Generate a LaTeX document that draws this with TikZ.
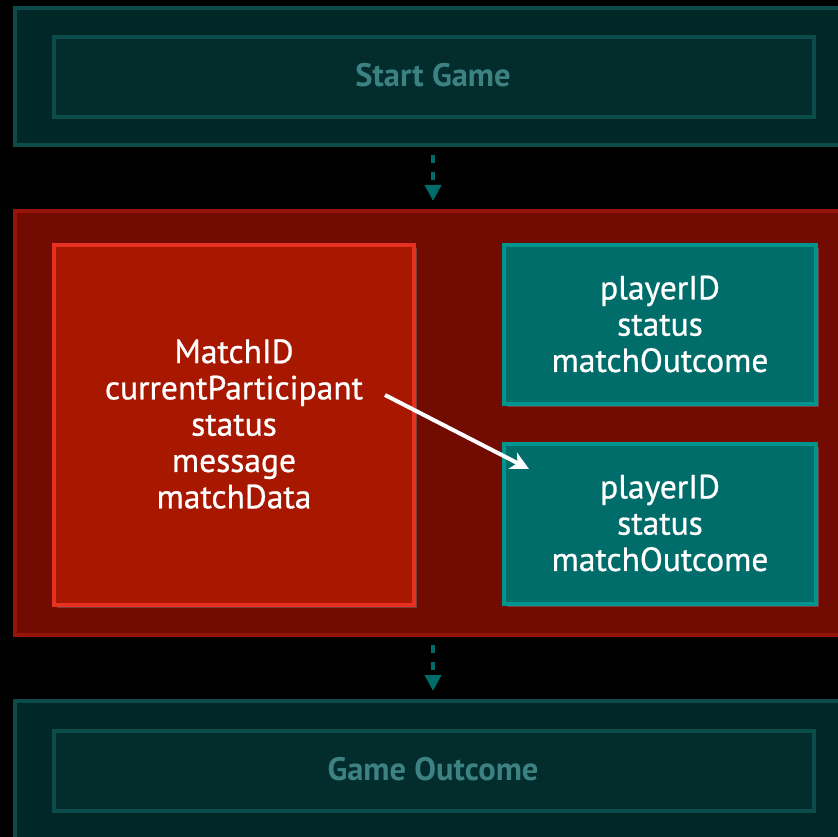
\documentclass[tikz,border=0pt]{standalone}
\usepackage{fontspec}
\setmainfont{PT Sans}
\newfontfamily\fieldfont[FakeBold=0.8]{PT Sans}
\usetikzlibrary{arrows.meta,shadows}

\definecolor{bgblack}{HTML}{000000}
\definecolor{stageFill}{HTML}{022727}
\definecolor{stageLine}{HTML}{0B4B49}
\definecolor{stageInFill}{HTML}{032D2D}
\definecolor{stageText}{HTML}{3D8282}
\definecolor{turnFill}{HTML}{720B02}
\definecolor{turnLine}{HTML}{96140A}
\definecolor{matchFill}{HTML}{A81700}
\definecolor{matchLine}{HTML}{E63120}
\definecolor{partFill}{HTML}{006D6A}
\definecolor{partLine}{HTML}{00948F}
\definecolor{flowTeal}{HTML}{006C6A}

\tikzset{
  stagebox/.style={draw=stageLine, fill=stageFill, line width=4pt},
  stageinner/.style={draw=stageLine, fill=stageInFill, line width=3.5pt},
  stagelabel/.style={text=stageText, font=\fontsize{32.5}{36}\selectfont\bfseries},
  turnbox/.style={draw=turnLine, fill=turnFill, line width=4pt},
  matchbox/.style={draw=matchLine, fill=matchFill, line width=3.5pt,
    drop shadow={shadow xshift=3pt, shadow yshift=-3pt, opacity=0.45}},
  partbox/.style={draw=partLine, fill=partFill, line width=3.5pt,
    drop shadow={shadow xshift=3pt, shadow yshift=-3pt, opacity=0.45}},
  fieldtext/.style={text=white, align=center,
    font=\fieldfont\fontsize{33.5}{36.3}\selectfont},
  flow/.style={draw=flowTeal, line width=4pt, dash pattern=on 8pt off 9pt,
    -{Triangle[length=16pt,width=16pt]}, flowTeal},
  pass/.style={draw=white, line width=4pt,
    -{Stealth[length=18pt,width=18pt,inset=5pt]}},
}

\begin{document}
\begin{tikzpicture}[x=1pt,y=-1pt]
  \fill[bgblack] (0,0) rectangle (838,837);
  \useasboundingbox (0,0) rectangle (838,837);
  \clip (0,0) rectangle (838,837);

  % start stage
  \draw[stagebox] (15,8) rectangle (860,145);
  \draw[stageinner] (54,37) rectangle (814,117);
  \node[stagelabel] (start) at (433,75) {Start Game};

  % turn stage
  \draw[turnbox] (15,211) rectangle (860,635);
  \draw[matchbox] (54,245) rectangle (414,605);
  \draw[partbox] (504,245) rectangle (816,404);
  \draw[partbox] (504,444) rectangle (816,604);

  \node[fieldtext] (match) at (234,424)
    {MatchID\\currentParticipant\\status\\message\\matchData};
  \node[fieldtext] (partA) at (660,324) {playerID\\status\\matchOutcome};
  \node[fieldtext] (partB) at (660,523) {playerID\\status\\matchOutcome};

  % outcome stage
  \draw[stagebox] (15,701) rectangle (860,860);
  \draw[stageinner] (54,731) rectangle (814,811);
  \node[stagelabel] (outcome) at (433,769) {Game Outcome};

  % flow between stages
  \coordinate (startOut) at (433,155);
  \coordinate (turnIn) at (433,201);
  \coordinate (turnOut) at (433,645);
  \coordinate (outcomeIn) at (433,691);
  \draw[flow] (startOut) -- (turnIn);
  \draw[flow] (turnOut) -- (outcomeIn);

  % current participant hand-off
  \coordinate (handFrom) at (385,395);
  \coordinate (handTo) at (529,469);
  \draw[pass] (handFrom) -- (handTo);
\end{tikzpicture}
\end{document}
